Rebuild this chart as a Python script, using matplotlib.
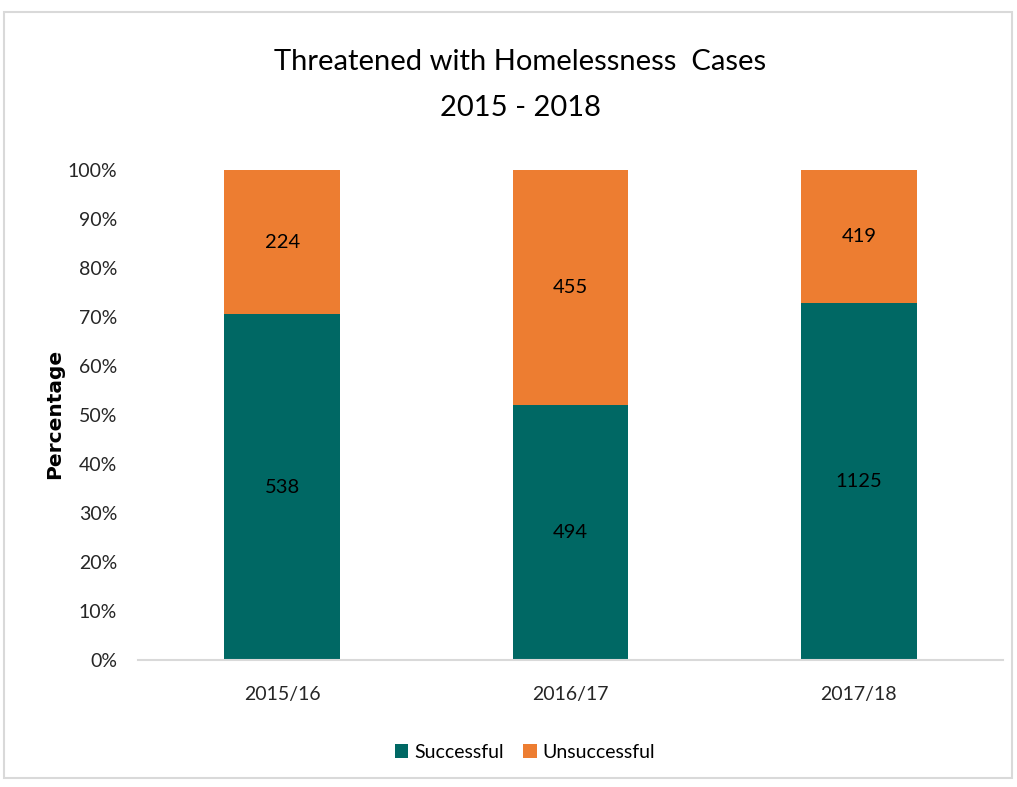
import matplotlib
matplotlib.use("Agg")
import matplotlib.pyplot as plt
from matplotlib.patches import Rectangle
import numpy as np

plt.rcParams['font.family'] = ['Lato', 'DejaVu Sans']

categories = ["2015/16", "2016/17", "2017/18"]
successful = [538, 494, 1125]
unsuccessful = [224, 455, 419]
series_names = ["Successful", "Unsuccessful"]
colors = ["#006864", "#ED7D31"]
yticks = [0, 10, 20, 30, 40, 50, 60, 70, 80, 90, 100]

succ = np.array(successful, dtype=float)
uns = np.array(unsuccessful, dtype=float)
tot = succ + uns
sp = succ / tot * 100
up = uns / tot * 100

W, H = 1017, 787
fig = plt.figure(figsize=(W / 100, H / 100), dpi=100)
fig.patches.append(Rectangle((4 / W, 1 - 778 / H), 1008 / W, (778 - 12) / H,
                             transform=fig.transFigure, fill=False,
                             edgecolor="#D9D9D9", linewidth=1.5))

ax = fig.add_axes([138 / W, 1 - 660 / H, (1003 - 138) / W, (660 - 170) / H])
x = np.arange(len(categories))
b1 = ax.bar(x, sp, width=0.4, color=colors[0], label=series_names[0])
b2 = ax.bar(x, up, width=0.4, bottom=sp, color=colors[1], label=series_names[1])
for i in range(len(categories)):
    ax.text(x[i], sp[i] / 2, str(successful[i]), ha="center", va="center",
            fontsize=14.5, color="#000000")
    ax.text(x[i], sp[i] + up[i] / 2, str(unsuccessful[i]), ha="center", va="center",
            fontsize=14.5, color="#000000")

ax.set_xlim(-0.5, 2.5)
ax.set_ylim(0, 100)
ax.set_yticks(yticks)
ax.set_yticklabels([f"{t}%" for t in yticks], fontsize=14, color="#262626")
ax.set_xticks(x)
ax.set_xticklabels(categories, fontsize=14, color="#262626")
ax.tick_params(axis="both", length=0)
ax.tick_params(axis="y", pad=15)
ax.tick_params(axis="x", pad=19)
for s in ["top", "right", "left"]:
    ax.spines[s].set_visible(False)
ax.spines["bottom"].set_color("#D9D9D9")
ax.spines["bottom"].set_linewidth(1.5)

fig.text(55 / W, 1 - 414 / H, "Percentage", rotation=90, ha="center", va="center",
         fontsize=14.5, fontweight="bold", color="#000000", family=["DejaVu Sans"])

fig.text(520 / W, 1 - 62 / H, "Threatened with Homelessness  Cases", ha="center",
         va="center", fontsize=21, color="#000000")
fig.text(520 / W, 1 - 108 / H, "2015 - 2018", ha="center", va="center",
         fontsize=21, color="#000000")

fig.legend(handles=[b1, b2], labels=series_names, loc="center",
           bbox_to_anchor=(525 / W, 1 - 752 / H), ncol=2, frameon=False,
           fontsize=14, handlelength=0.7, handleheight=0.7, handletextpad=0.3,
           columnspacing=1.0)

fig.savefig("out.png", dpi=100)
